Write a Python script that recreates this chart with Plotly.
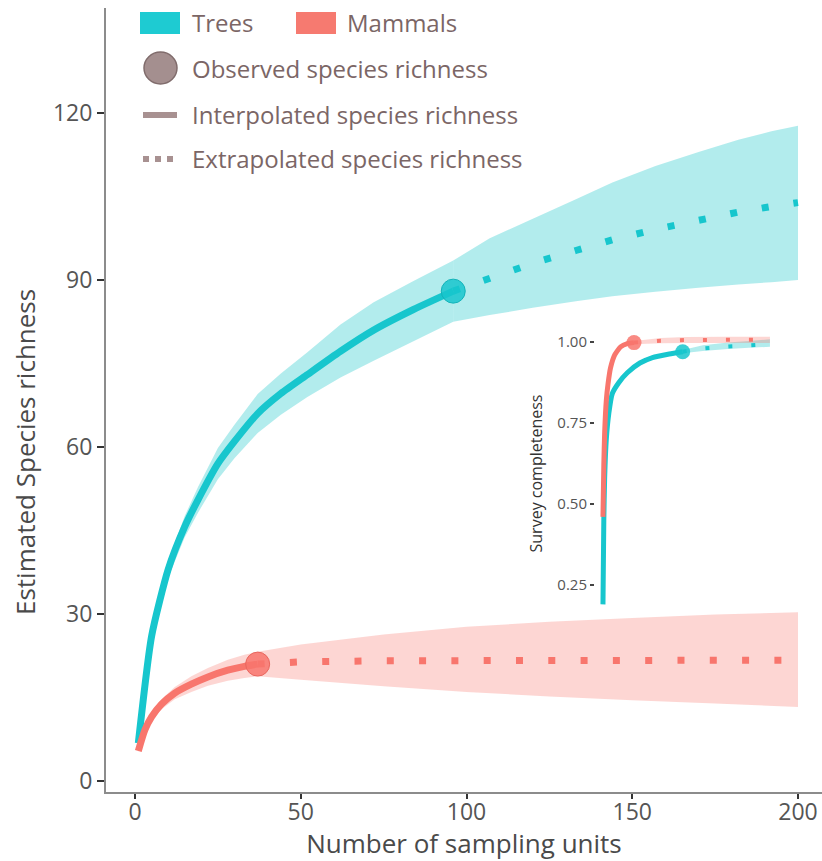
import plotly.graph_objects as go

# ---------------- data ----------------
trees_interp_x = [1, 5, 10, 15, 19, 25, 30, 37, 44, 52, 62, 72, 84, 96]
trees_interp_y = [6.8, 26, 38, 45.7, 50.5, 57, 61, 66, 69.6, 73, 77.2, 81, 84.7, 88]
trees_interp_lo = [6.5, 25, 36.5, 43.8, 48.2, 54.2, 58, 62.5, 65.8, 69, 72.5, 75.5, 79, 82.5]
trees_interp_hi = [7.1, 27, 39.5, 47.6, 52.8, 59.8, 64, 69.5, 73.2, 77, 82, 86, 89.8, 93.5]

trees_extra_x = [96, 107, 120, 133, 144, 157, 170, 182, 192, 200]
trees_extra_y = [88, 90.3, 93, 95.3, 97.2, 99.1, 100.8, 102.2, 103.2, 103.9]
trees_extra_lo = [82.5, 83.7, 85, 86.2, 87.1, 87.9, 88.6, 89.2, 89.6, 90.0]
trees_extra_hi = [93.5, 97.5, 101, 104.5, 107.5, 110.5, 113, 115.2, 116.7, 117.7]

mammals_interp_x = [1, 3, 5, 8, 12, 17, 22, 28, 33, 37]
mammals_interp_y = [5.4, 9.2, 11.5, 13.8, 15.8, 17.4, 18.7, 19.9, 20.6, 21.0]
mammals_interp_lo = [5.2, 8.8, 10.9, 12.9, 14.7, 16.0, 17.1, 18.0, 18.5, 18.8]
mammals_interp_hi = [5.6, 9.6, 12.1, 14.7, 16.9, 18.8, 20.3, 21.8, 22.7, 23.2]

mammals_extra_x = [37, 50, 75, 100, 125, 150, 175, 200]
mammals_extra_y = [21.0, 21.4, 21.6, 21.65, 21.7, 21.7, 21.7, 21.7]
mammals_extra_lo = [18.8, 18.2, 17.0, 16.0, 15.2, 14.5, 13.9, 13.3]
mammals_extra_hi = [23.2, 24.5, 26.3, 27.7, 28.6, 29.3, 29.9, 30.3]

trees_obs = (96, 88)
mammals_obs = (37, 21.0)

# inset: survey completeness
sc_trees_interp_x = [1, 2, 3, 5, 8, 12, 20, 30, 45, 60, 80, 96]
sc_trees_interp_y = [0.19, 0.45, 0.58, 0.70, 0.78, 0.84, 0.875, 0.905, 0.935, 0.952, 0.963, 0.970]
sc_trees_extra_x = [96, 120, 150, 175, 200]
sc_trees_extra_y = [0.970, 0.980, 0.986, 0.990, 0.993]
sc_trees_extra_lo = [0.965, 0.972, 0.978, 0.982, 0.985]
sc_trees_extra_hi = [0.975, 0.990, 0.998, 1.003, 1.008]

sc_mammals_interp_x = [1, 2, 3, 5, 7, 10, 15, 22, 30, 38]
sc_mammals_interp_y = [0.46, 0.62, 0.72, 0.82, 0.87, 0.92, 0.96, 0.985, 0.995, 0.998]
sc_mammals_extra_x = [38, 70, 100, 150, 200]
sc_mammals_extra_y = [0.998, 1.004, 1.006, 1.007, 1.007]
sc_mammals_extra_lo = [0.993, 0.996, 0.997, 0.997, 0.997]
sc_mammals_extra_hi = [1.003, 1.012, 1.015, 1.016, 1.016]

main_xticks = [0, 50, 100, 150, 200]
main_yticks = [0, 30, 60, 90, 120]
inset_yticks = [0.25, 0.50, 0.75, 1.00]

# ---------------- styling ----------------
TEAL = "#17C6CD"
RED = "#F8766D"
TEAL_BAND = "rgba(0,191,196,0.30)"
RED_BAND = "rgba(248,118,109,0.30)"
FONT = "Open Sans"
LEG_COL = "#7b6666"

W, H = 822, 861
ML, MR, MT, MB = 106, 0, 8, 69


def band(xs, lo, hi):
    return xs + xs[::-1], hi + lo[::-1]


fig = go.Figure()

# main plot ribbons
for xs, lo, hi, col in [
    (trees_interp_x, trees_interp_lo, trees_interp_hi, TEAL_BAND),
    (trees_extra_x, trees_extra_lo, trees_extra_hi, TEAL_BAND),
    (mammals_interp_x, mammals_interp_lo, mammals_interp_hi, RED_BAND),
    (mammals_extra_x, mammals_extra_lo, mammals_extra_hi, RED_BAND),
]:
    bx, by = band(xs, lo, hi)
    fig.add_trace(go.Scatter(x=bx, y=by, fill="toself", fillcolor=col, mode="none",
                             hoverinfo="skip", showlegend=False))

# main lines
fig.add_trace(go.Scatter(x=trees_extra_x, y=trees_extra_y, mode="lines",
                         line=dict(color=TEAL, width=7, dash="7px,25px"), showlegend=False))
fig.add_trace(go.Scatter(x=mammals_extra_x, y=mammals_extra_y, mode="lines",
                         line=dict(color=RED, width=7, dash="7px,25.3px"), showlegend=False))
fig.add_trace(go.Scatter(x=trees_interp_x, y=trees_interp_y, mode="lines",
                         line=dict(color=TEAL, width=7, shape="spline", smoothing=0.6), showlegend=False))
fig.add_trace(go.Scatter(x=mammals_interp_x, y=mammals_interp_y, mode="lines",
                         line=dict(color=RED, width=7, shape="spline", smoothing=0.6), showlegend=False))
fig.add_trace(go.Scatter(x=[trees_obs[0]], y=[trees_obs[1]], mode="markers",
                         marker=dict(size=24, color="rgba(23,198,205,0.85)",
                                     line=dict(width=1, color="#12b3b9")), showlegend=False))
fig.add_trace(go.Scatter(x=[mammals_obs[0]], y=[mammals_obs[1]], mode="markers",
                         marker=dict(size=24, color="rgba(248,118,109,0.85)",
                                     line=dict(width=1, color="#e8665e")), showlegend=False))

# inset
for xs, lo, hi, col in [
    (sc_trees_extra_x, sc_trees_extra_lo, sc_trees_extra_hi, TEAL_BAND),
    (sc_mammals_extra_x, sc_mammals_extra_lo, sc_mammals_extra_hi, RED_BAND),
]:
    bx, by = band(xs, lo, hi)
    fig.add_trace(go.Scatter(x=bx, y=by, fill="toself", fillcolor=col, mode="none",
                             hoverinfo="skip", showlegend=False, xaxis="x2", yaxis="y2"))
fig.add_trace(go.Scatter(x=sc_trees_extra_x, y=sc_trees_extra_y, mode="lines", xaxis="x2", yaxis="y2",
                         line=dict(color=TEAL, width=4, dash="4px,19px"), showlegend=False))
fig.add_trace(go.Scatter(x=sc_mammals_extra_x, y=sc_mammals_extra_y, mode="lines", xaxis="x2", yaxis="y2",
                         line=dict(color=RED, width=4, dash="4px,19px"), showlegend=False))
fig.add_trace(go.Scatter(x=sc_trees_interp_x, y=sc_trees_interp_y, mode="lines", xaxis="x2", yaxis="y2",
                         line=dict(color=TEAL, width=5, shape="spline", smoothing=0.5), showlegend=False))
fig.add_trace(go.Scatter(x=sc_mammals_interp_x, y=sc_mammals_interp_y, mode="lines", xaxis="x2", yaxis="y2",
                         line=dict(color=RED, width=5, shape="spline", smoothing=0.5), showlegend=False))
fig.add_trace(go.Scatter(x=[sc_trees_interp_x[-1]], y=[sc_trees_interp_y[-1]], mode="markers",
                         xaxis="x2", yaxis="y2",
                         marker=dict(size=15, color="rgba(23,198,205,0.85)"), showlegend=False))
fig.add_trace(go.Scatter(x=[sc_mammals_interp_x[-1]], y=[sc_mammals_interp_y[-1]], mode="markers",
                         xaxis="x2", yaxis="y2",
                         marker=dict(size=15, color="rgba(248,118,109,0.85)"), showlegend=False))

PW = W - ML - MR
PH = H - MT - MB


def px(x):
    return (x - ML) / PW


def py(y):
    return (H - MB - y) / PH


# main x: 0 at px 135, 200 at px 798 ; main y: 0 at py 781, 120 at py 113
x_per = (798 - 135) / 200.0
y_per = (781 - 113) / 120.0
x_lo = -(135 - ML) / x_per
x_hi = 200 + (W - MR - 798) / x_per
y_lo = -((H - MB) - 781) / y_per
y_hi = (781 - MT) / y_per

fig.update_layout(
    width=W, height=H,
    margin=dict(l=ML, r=MR, t=MT, b=MB),
    paper_bgcolor="white", plot_bgcolor="rgba(0,0,0,0)",
    showlegend=False,
    font=dict(family=FONT, color="#555555"),
    xaxis=dict(range=[x_lo, x_hi], tickvals=main_xticks, showgrid=False, zeroline=False,
               automargin=False,
               showline=True, linecolor="#8c8c8c", linewidth=2,
               ticks="outside", ticklen=5, tickwidth=2, tickcolor="#333333",
               ticklabelstandoff=-7,
               tickfont=dict(size=23, color="#555555"),
               title=dict(text="Number of sampling units", font=dict(size=26, color="#4a4a4a"),
                          standoff=10)),
    yaxis=dict(range=[y_lo, y_hi], tickvals=main_yticks, showgrid=False, zeroline=False,
               automargin=False,
               showline=True, linecolor="#8c8c8c", linewidth=2,
               ticks="outside", ticklen=7, tickwidth=2, tickcolor="#333333",
               tickfont=dict(size=23, color="#555555")),
    xaxis2=dict(domain=[px(595), px(778)], range=[-8.5, 209.6], anchor="y2",
                visible=False, showgrid=False, zeroline=False),
    yaxis2=dict(domain=[py(618), py(329)], range=[0.148, 1.040], anchor="x2",
                automargin=False,
                tickvals=inset_yticks, ticktext=["0.25", "0.50", "0.75", "1.00"],
                showgrid=False, zeroline=False, showline=False,
                ticks="outside", ticklen=4, tickwidth=2, tickcolor="#444444",
                tickfont=dict(size=15, color="#555555"),
                title=dict(text="Survey completeness", font=dict(size=16, color="#333333"),
                           standoff=10)),
)

# ---------------- custom legend and y title ----------------
shapes = []
annots = []
shapes.append(dict(type="rect", xref="paper", yref="paper", x0=px(140), x1=px(180), y0=py(34), y1=py(12),
                   fillcolor="#1ECBD2", line=dict(width=0)))
shapes.append(dict(type="rect", xref="paper", yref="paper", x0=px(296), x1=px(336), y0=py(34), y1=py(12),
                   fillcolor="#F67A70", line=dict(width=0)))
shapes.append(dict(type="circle", xref="paper", yref="paper", x0=px(144), x1=px(177), y0=py(84), y1=py(52),
                   fillcolor="#a48f8f", line=dict(width=1.5, color="#806c6c")))
shapes.append(dict(type="line", xref="paper", yref="paper", x0=px(143), x1=px(177), y0=py(115), y1=py(115),
                   line=dict(width=6, color="#a89191")))
shapes.append(dict(type="line", xref="paper", yref="paper", x0=px(143), x1=px(175), y0=py(159), y1=py(159),
                   line=dict(width=6, color="#a89191", dash="6px,6px")))

for text, x, y in [("Trees", 190, 23), ("Mammals", 345, 23),
                   ("Observed species richness", 190, 69),
                   ("Interpolated species richness", 190, 114),
                   ("Extrapolated species richness", 190, 159)]:
    annots.append(dict(text=text, xref="paper", yref="paper", x=px(x), y=py(y),
                       xanchor="left", yanchor="middle", showarrow=False,
                       font=dict(family=FONT, size=24, color=LEG_COL)))

annots.append(dict(text="Estimated Species richness", xref="paper", yref="paper",
                   x=px(25), y=py(452), xanchor="center", yanchor="middle",
                   textangle=-90, showarrow=False,
                   font=dict(family=FONT, size=26, color="#4a4a4a")))

fig.update_layout(shapes=shapes, annotations=annots)

fig.write_html("out.html")
